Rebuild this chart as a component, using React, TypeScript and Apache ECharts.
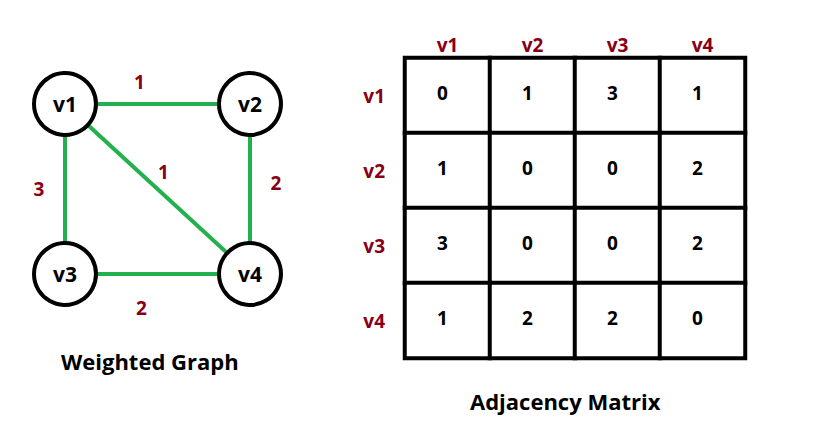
import { useEffect, useRef } from 'react'
import * as echarts from 'echarts'

const vertices = ['v1', 'v2', 'v3', 'v4']
// abstract layout of the vertices: [column, row]
const vertexPos: [number, number][] = [[0, 1], [1, 1], [0, 0], [1, 0]]
const edges: [number, number, number][] = [
  [0, 1, 1],
  [0, 2, 3],
  [0, 3, 1],
  [1, 3, 2],
  [2, 3, 2],
]
// label offsets of the weights, [dx, dy]
const weightOffsets: [number, number][] = [[-18, -22], [-26, 0], [6, -17], [26, -6], [-16, 34]]
const matrix = [
  [0, 1, 3, 1],
  [1, 0, 0, 2],
  [3, 0, 0, 2],
  [1, 2, 2, 0],
]

const RED = '#880015'
const GREEN = '#22b14c'
const FONT = '"Open Sans", sans-serif'

export default function App() {
  const ref = useRef<HTMLDivElement>(null)

  useEffect(() => {
    document.body.style.margin = '0'
    if (!ref.current) return
    const chart = echarts.init(ref.current, undefined, { renderer: 'svg' })

    const heat: number[][] = []
    matrix.forEach((row, r) => row.forEach((v, c) => heat.push([c, r, v])))

    chart.setOption({
      animation: false,
      backgroundColor: '#fff',
      grid: [
        { left: 65, top: 104, width: 185, height: 170 },
        { left: 405, top: 58, width: 340, height: 300 },
      ],
      xAxis: [
        { gridIndex: 0, type: 'value', min: 0, max: 1, show: false },
        {
          gridIndex: 1, type: 'category', data: vertices, position: 'top',
          axisLine: { show: false }, axisTick: { show: false }, splitLine: { show: false },
          axisLabel: { color: RED, fontWeight: 'bold', fontSize: 19, fontFamily: FONT, margin: 4 },
        },
      ],
      yAxis: [
        { gridIndex: 0, type: 'value', min: 0, max: 1, show: false },
        {
          gridIndex: 1, type: 'category', data: vertices, inverse: true,
          axisLine: { show: false }, axisTick: { show: false }, splitLine: { show: false },
          axisLabel: { color: RED, fontWeight: 'bold', fontSize: 19, fontFamily: FONT, margin: 20 },
        },
      ],
      visualMap: { show: false, min: 0, max: 3, seriesIndex: 2, inRange: { color: ['#fff', '#fff'] } },
      series: [
        {
          type: 'graph',
          coordinateSystem: 'cartesian2d',
          xAxisIndex: 0, yAxisIndex: 0,
          symbolSize: 62,
          data: vertices.map((name, i) => ({ name, value: vertexPos[i] })),
          links: edges.map(([s, t]) => ({ source: vertices[s], target: vertices[t] })),
          itemStyle: { color: '#fff', borderColor: '#000', borderWidth: 4 },
          label: { show: true, color: '#000', fontSize: 21, fontWeight: 'bold', fontFamily: FONT },
          lineStyle: { color: GREEN, width: 4, opacity: 1 },
          emphasis: { disabled: true },
          z: 2,
        },
        {
          type: 'scatter',
          xAxisIndex: 0, yAxisIndex: 0,
          symbolSize: 0,
          itemStyle: { opacity: 1 },
          data: edges.map(([s, t, w], i) => ({
            value: [(vertexPos[s][0] + vertexPos[t][0]) / 2, (vertexPos[s][1] + vertexPos[t][1]) / 2, w],
            label: { offset: weightOffsets[i] },
          })),
          label: {
            show: true, position: 'inside', formatter: (p: any) => String(p.value[2]),
            color: RED, opacity: 1, fontSize: 19, fontWeight: 'bold', fontFamily: FONT,
          },
          emphasis: { disabled: true },
          z: 3,
        },
        {
          type: 'heatmap',
          xAxisIndex: 1, yAxisIndex: 1,
          data: heat,
          itemStyle: { color: '#fff', borderColor: '#000', borderWidth: 4 },
          label: { show: true, color: '#000', fontSize: 19, fontWeight: 'bold', fontFamily: FONT, offset: [-5, -3] },
          emphasis: { disabled: true },
        },
      ],
      graphic: [
        {
          type: 'text', left: 61, top: 350,
          style: { text: 'Weighted Graph', fill: '#000', font: `bold 22px ${FONT}` },
        },
        {
          type: 'text', left: 470, top: 390,
          style: { text: 'Adjacency Matrix', fill: '#000', font: `bold 22px ${FONT}` },
        },
      ],
    })

    return () => chart.dispose()
  }, [])

  return <div ref={ref} style={{ width: 835, height: 447 }} />
}
